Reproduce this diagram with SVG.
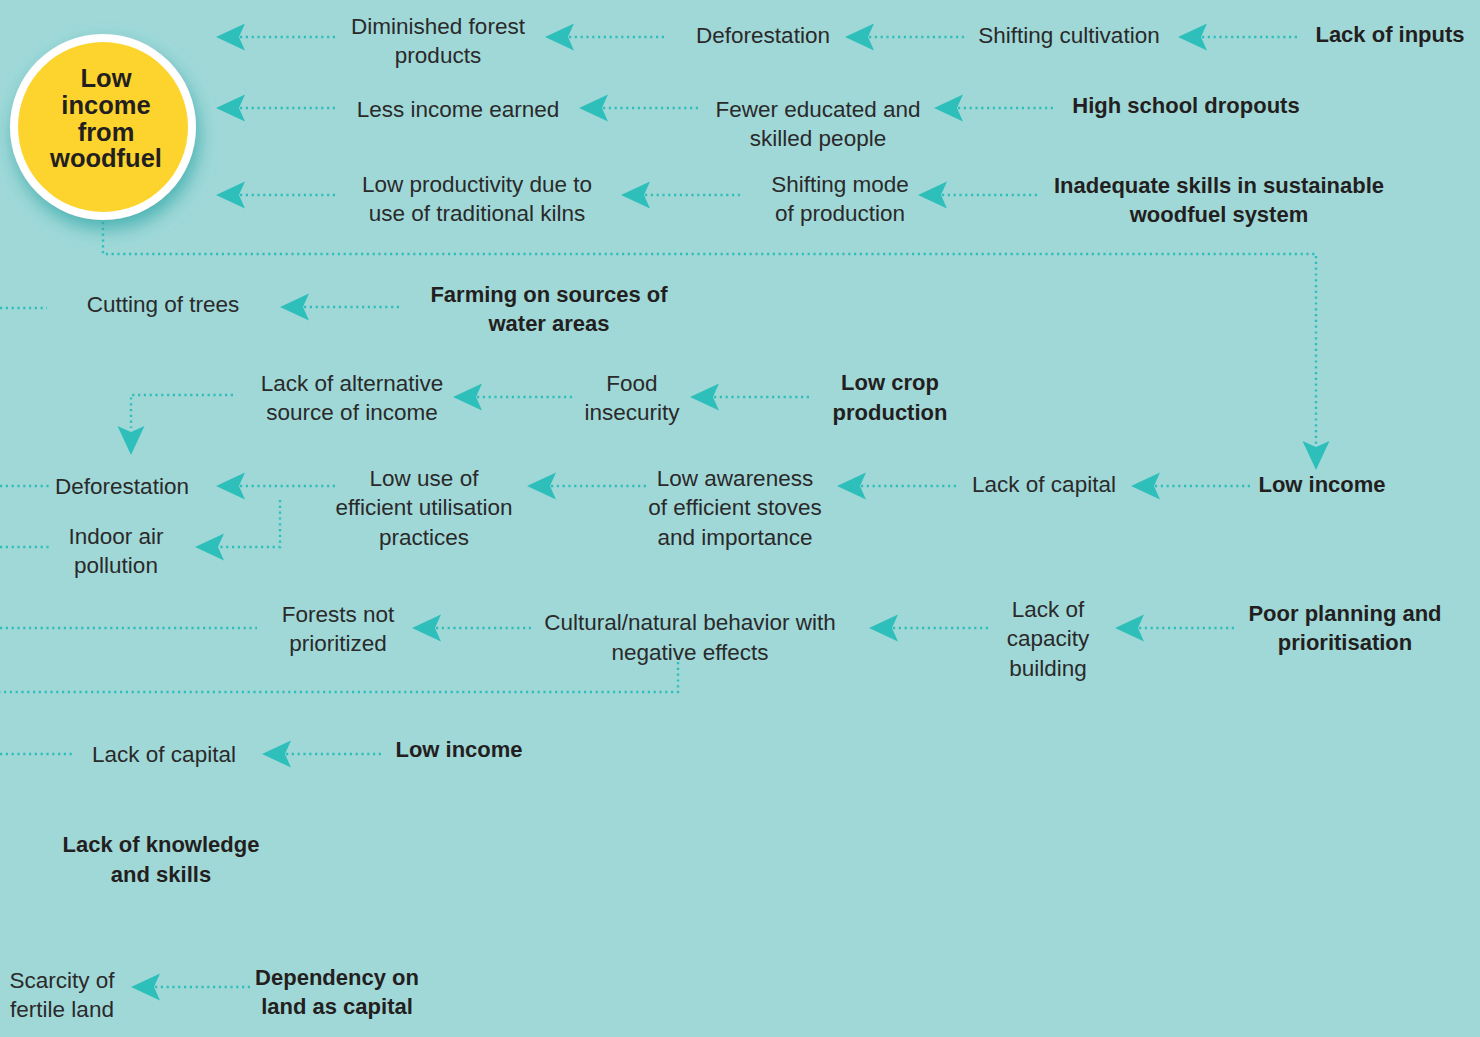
<svg xmlns="http://www.w3.org/2000/svg" xmlns:xlink="http://www.w3.org/1999/xlink" width="1480" height="1037" viewBox="0 0 1480 1037">
<defs>
<style>
.t{font-family:"Liberation Sans",Arial,Helvetica,sans-serif;font-size:22.5px;fill:#2a2a2a;text-anchor:middle}
.b{font-family:"Liberation Sans",Arial,Helvetica,sans-serif;font-size:22px;font-weight:bold;fill:#231f20;text-anchor:middle}
.c{font-family:"Liberation Sans",Arial,Helvetica,sans-serif;font-size:25.5px;font-weight:bold;fill:#231f20;text-anchor:middle}
.d{fill:none;stroke:#2fbfbb;stroke-width:2.4;stroke-dasharray:2.2 3.6}
.ah{fill:#2fbfbb}
</style>
<path id="ah" d="M0,0 L29,-13.5 L23,0 L29,13.5 Z"/>
<filter id="sh" x="-30%" y="-30%" width="160%" height="170%">
<feDropShadow dx="3" dy="9" stdDeviation="9" flood-color="#2fa6a6" flood-opacity="0.75"/>
</filter>
</defs>
<rect width="1480" height="1037" fill="#a0d8d8"/>

<g id="connectors">
<path class="d" d="M240,37 H336"/><use href="#ah" class="ah" x="216" y="37"/>
<path class="d" d="M569,37 H665"/><use href="#ah" class="ah" x="545" y="37"/>
<path class="d" d="M869,37 H965"/><use href="#ah" class="ah" x="845" y="37"/>
<path class="d" d="M1202,37 H1300"/><use href="#ah" class="ah" x="1178" y="37"/>
<path class="d" d="M240,108 H337"/><use href="#ah" class="ah" x="216" y="108"/>
<path class="d" d="M603,108 H700"/><use href="#ah" class="ah" x="579" y="108"/>
<path class="d" d="M958,108 H1055"/><use href="#ah" class="ah" x="934" y="108"/>
<path class="d" d="M240,195 H337"/><use href="#ah" class="ah" x="216" y="195"/>
<path class="d" d="M645,195 H742"/><use href="#ah" class="ah" x="621" y="195"/>
<path class="d" d="M942,195 H1040"/><use href="#ah" class="ah" x="918" y="195"/>
<path class="d" d="M103,222 V254 H1316 V444"/>
<use href="#ah" class="ah" transform="translate(1316,470) rotate(-90)"/>
<path class="d" d="M0,308 H47"/>
<path class="d" d="M304,307 H400"/><use href="#ah" class="ah" x="280" y="307"/>
<path class="d" d="M233,395 H131 V428"/>
<use href="#ah" class="ah" transform="translate(131,455) rotate(-90)"/>
<path class="d" d="M477,397 H575"/><use href="#ah" class="ah" x="453" y="397"/>
<path class="d" d="M714,397 H812"/><use href="#ah" class="ah" x="690" y="397"/>
<path class="d" d="M0,486 H52"/>
<path class="d" d="M240,486 H337"/><use href="#ah" class="ah" x="216" y="486"/>
<path class="d" d="M280,500 V547 H219"/><use href="#ah" class="ah" x="195" y="547"/>
<path class="d" d="M0,547 H52"/>
<path class="d" d="M551,486 H648"/><use href="#ah" class="ah" x="527" y="486"/>
<path class="d" d="M861,486 H958"/><use href="#ah" class="ah" x="837" y="486"/>
<path class="d" d="M1155,486 H1252"/><use href="#ah" class="ah" x="1131" y="486"/>
<path class="d" d="M0,628 H257"/>
<path class="d" d="M436,628 H532"/><use href="#ah" class="ah" x="412" y="628"/>
<path class="d" d="M678,662 V692 H0"/>
<path class="d" d="M893,628 H990"/><use href="#ah" class="ah" x="869" y="628"/>
<path class="d" d="M1139,628 H1237"/><use href="#ah" class="ah" x="1115" y="628"/>
<path class="d" d="M0,754 H73"/>
<path class="d" d="M286,754 H383"/><use href="#ah" class="ah" x="262" y="754"/>
<path class="d" d="M155,987 H252"/><use href="#ah" class="ah" x="131" y="987"/>
</g>

<g id="n-core">
<circle cx="103" cy="127" r="93" fill="#ffffff" filter="url(#sh)"/>
<circle cx="103" cy="127" r="85" fill="#fdd42d"/>
<text class="c" x="106" y="87">Low</text>
<text class="c" x="106" y="114">income</text>
<text class="c" x="106" y="141">from</text>
<text class="c" x="106" y="167">woodfuel</text>
</g>

<g id="n-diminished"><text class="t" x="438" y="34">Diminished forest</text><text class="t" x="438" y="63">products</text></g>
<g id="n-deforestation1"><text class="t" x="763" y="43">Deforestation</text></g>
<g id="n-shifting-cult"><text class="t" x="1069" y="43">Shifting cultivation</text></g>
<g id="n-lack-inputs"><text class="b" x="1390" y="42">Lack of inputs</text></g>

<g id="n-less-income"><text class="t" x="458" y="117">Less income earned</text></g>
<g id="n-fewer-educated"><text class="t" x="818" y="117">Fewer educated and</text><text class="t" x="818" y="146">skilled people</text></g>
<g id="n-dropouts"><text class="b" x="1186" y="113">High school dropouts</text></g>

<g id="n-low-productivity"><text class="t" x="477" y="192">Low productivity due to</text><text class="t" x="477" y="221">use of traditional kilns</text></g>
<g id="n-shifting-mode"><text class="t" x="840" y="192">Shifting mode</text><text class="t" x="840" y="221">of production</text></g>
<g id="n-inadequate"><text class="b" x="1219" y="193">Inadequate skills in sustainable</text><text class="b" x="1219" y="222">woodfuel system</text></g>

<g id="n-cutting"><text class="t" x="163" y="312">Cutting of trees</text></g>
<g id="n-farming"><text class="b" x="549" y="302">Farming on sources of</text><text class="b" x="549" y="331">water areas</text></g>

<g id="n-alt-income"><text class="t" x="352" y="391">Lack of alternative</text><text class="t" x="352" y="420">source of income</text></g>
<g id="n-food"><text class="t" x="632" y="391">Food</text><text class="t" x="632" y="420">insecurity</text></g>
<g id="n-low-crop"><text class="b" x="890" y="390">Low crop</text><text class="b" x="890" y="420">production</text></g>

<g id="n-deforestation2"><text class="t" x="122" y="494">Deforestation</text></g>
<g id="n-low-use"><text class="t" x="424" y="486">Low use of</text><text class="t" x="424" y="515">efficient utilisation</text><text class="t" x="424" y="545">practices</text></g>
<g id="n-indoor"><text class="t" x="116" y="544">Indoor air</text><text class="t" x="116" y="573">pollution</text></g>
<g id="n-awareness"><text class="t" x="735" y="486">Low awareness</text><text class="t" x="735" y="515">of efficient stoves</text><text class="t" x="735" y="545">and importance</text></g>
<g id="n-capital1"><text class="t" x="1044" y="492">Lack of capital</text></g>
<g id="n-low-income1"><text class="b" x="1322" y="492">Low income</text></g>

<g id="n-forests"><text class="t" x="338" y="622">Forests not</text><text class="t" x="338" y="651">prioritized</text></g>
<g id="n-cultural"><text class="t" x="690" y="630">Cultural/natural behavior with</text><text class="t" x="690" y="660">negative effects</text></g>
<g id="n-capacity"><text class="t" x="1048" y="617">Lack of</text><text class="t" x="1048" y="646">capacity</text><text class="t" x="1048" y="676">building</text></g>
<g id="n-planning"><text class="b" x="1345" y="621">Poor planning and</text><text class="b" x="1345" y="650">prioritisation</text></g>

<g id="n-capital2"><text class="t" x="164" y="762">Lack of capital</text></g>
<g id="n-low-income2"><text class="b" x="459" y="757">Low income</text></g>

<g id="n-knowledge"><text class="b" x="161" y="852">Lack of knowledge</text><text class="b" x="161" y="882">and skills</text></g>

<g id="n-scarcity"><text class="t" x="62" y="988">Scarcity of</text><text class="t" x="62" y="1017">fertile land</text></g>
<g id="n-dependency"><text class="b" x="337" y="985">Dependency on</text><text class="b" x="337" y="1014">land as capital</text></g>
</svg>
